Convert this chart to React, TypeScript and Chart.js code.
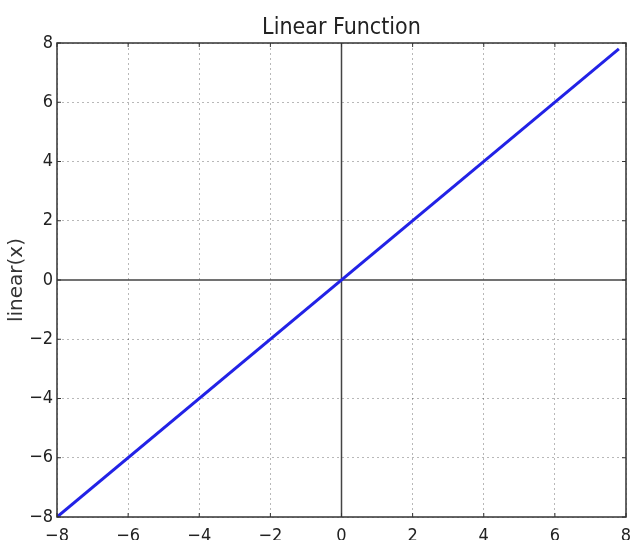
import React, { useEffect, useRef } from "react";
import { Chart, registerables } from "chart.js";

Chart.register(...registerables);

const xValues = [-8, 7.8];
const yValues = [-8, 7.8];
const tickValues = [-8, -6, -4, -2, 0, 2, 4, 6, 8];
const titleText = "Linear Function";
const yAxisTitle = "linear(x)";

const FONT = "'DejaVu Sans Condensed', 'DejaVu Sans', sans-serif";

const fmt = (v: number) => (v < 0 ? "\u2212" + Math.abs(v) : String(v));

const framePlugin = {
  id: "frame",
  beforeDatasetsDraw(chart: any) {
    const { ctx, chartArea: a, scales } = chart;
    const x0 = scales.x.getPixelForValue(0);
    const y0 = scales.y.getPixelForValue(0);
    ctx.save();
    ctx.strokeStyle = "#444";
    ctx.lineWidth = 1.5;
    ctx.beginPath();
    ctx.moveTo(x0, a.top);
    ctx.lineTo(x0, a.bottom);
    ctx.moveTo(a.left, y0);
    ctx.lineTo(a.right, y0);
    ctx.stroke();
    ctx.restore();
  },
  afterDraw(chart: any) {
    const { ctx, chartArea: a, scales } = chart;
    ctx.save();
    ctx.strokeStyle = "#333";
    ctx.lineWidth = 1.5;
    ctx.strokeRect(a.left, a.top, a.right - a.left, a.bottom - a.top);
    ctx.lineWidth = 1;
    ctx.beginPath();
    const L = 4;
    tickValues.forEach((v) => {
      const px = scales.x.getPixelForValue(v);
      ctx.moveTo(px, a.bottom);
      ctx.lineTo(px, a.bottom - L);
      ctx.moveTo(px, a.top);
      ctx.lineTo(px, a.top + L);
      const py = scales.y.getPixelForValue(v);
      ctx.moveTo(a.left, py);
      ctx.lineTo(a.left + L, py);
      ctx.moveTo(a.right, py);
      ctx.lineTo(a.right - L, py);
    });
    ctx.stroke();
    ctx.restore();
  },
};

export default function App() {
  const ref = useRef<HTMLCanvasElement | null>(null);
  useEffect(() => {
    if (!ref.current) return;
    const gridColor = (c: any) =>
      c.tick && c.tick.value === 0 ? "rgba(0,0,0,0)" : "rgba(0,0,0,0.28)";
    const chart = new Chart(ref.current, {
      type: "scatter",
      data: {
        datasets: [
          {
            data: xValues.map((x, i) => ({ x, y: yValues[i] })),
            showLine: true,
            borderColor: "#2222e6",
            borderWidth: 3,
            pointRadius: 0,
            fill: false,
          },
        ],
      },
      options: {
        animation: false,
        responsive: false,
        layout: { padding: { left: 0, right: 5, top: 0, bottom: 0 } },
        plugins: {
          legend: { display: false },
          tooltip: { enabled: false },
          title: {
            display: true,
            text: titleText,
            fullSize: false,
            color: "#222",
            font: { family: FONT, size: 23, weight: "normal" },
            padding: { top: 14, bottom: 1.4 },
          },
        },
        scales: {
          x: {
            type: "linear",
            min: -8,
            max: 8,
            afterBuildTicks: (s: any) => {
              s.ticks = tickValues.map((v) => ({ value: v }));
            },
            afterFit: (s: any) => {
              s.height = 23;
              s.paddingLeft = 0;
              s.paddingRight = 0;
            },
            ticks: {
              callback: (v: any) => fmt(Number(v)),
              color: "#222",
              font: { family: FONT, size: 18 },
              padding: 9,
              maxRotation: 0,
            },
            grid: { color: gridColor, drawTicks: false, lineWidth: 1 },
            border: { display: false, dash: [2, 3] },
          },
          y: {
            type: "linear",
            min: -8,
            max: 8,
            afterBuildTicks: (s: any) => {
              s.ticks = tickValues.map((v) => ({ value: v }));
            },
            afterFit: (s: any) => {
              s.width = 57;
              s.paddingTop = 0;
              s.paddingBottom = 0;
            },
            title: {
              display: true,
              text: yAxisTitle,
              color: "#333",
              font: { family: "'DejaVu Sans', sans-serif", size: 20 },
              padding: { top: 5, bottom: 0 },
            },
            ticks: {
              callback: (v: any) => fmt(Number(v)),
              color: "#222",
              font: { family: FONT, size: 18 },
              padding: 4,
            },
            grid: { color: gridColor, drawTicks: false, lineWidth: 1 },
            border: { display: false, dash: [2, 3] },
          },
        },
      },
      plugins: [framePlugin],
    } as any);
    return () => chart.destroy();
  }, []);
  return (
    <div style={{ position: "absolute", left: 0, top: 0, width: 631, height: 540, background: "#fff" }}>
      <canvas ref={ref} width={631} height={540} />
    </div>
  );
}
